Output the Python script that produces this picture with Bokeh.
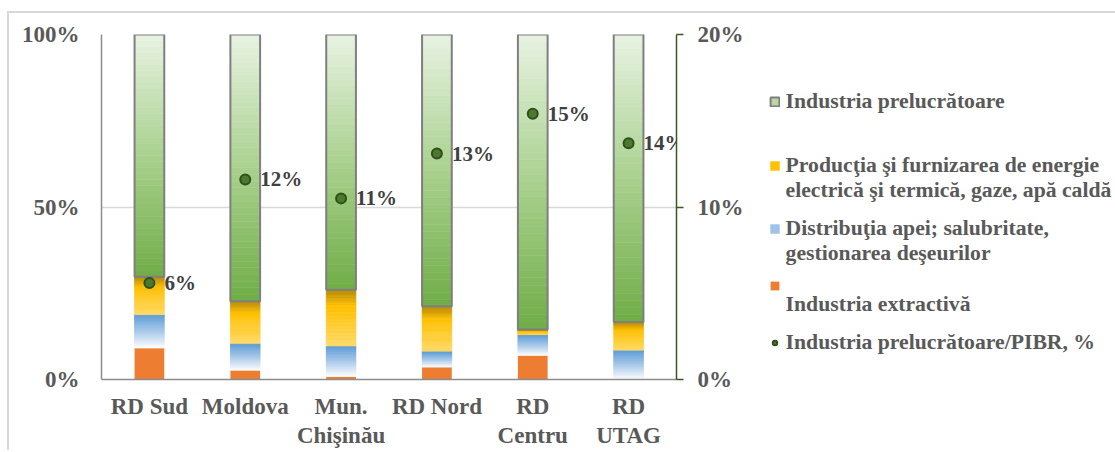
from bokeh.plotting import figure
from bokeh.models import (Range1d, LinearAxis, FixedTicker,
                          PrintfTickFormatter, Legend, LegendItem, ColumnDataSource)
from bokeh.core.properties import value
from bokeh.embed import file_html
from bokeh.resources import INLINE

# ---------------- data ----------------
categories = ["RD Sud", "Moldova", "Mun. Chişinău", "RD Nord", "RD Centru", "RD UTAG"]
tick_line1 = ["RD Sud", "Moldova", "Mun.", "RD Nord", "RD", "RD"]
tick_line2 = ["", "", "Chişinău", "", "Centru", "UTAG"]

extractiva = [9.1, 2.7, 0.9, 3.6, 7.0, 0.0]
distributia = [9.7, 7.7, 8.8, 4.6, 6.0, 8.5]
energie = [11.0, 12.3, 16.3, 13.0, 1.5, 8.2]
prelucratoare = [70.2, 77.3, 74.0, 78.8, 85.5, 83.3]

prelucr_pibr = [5.6, 11.6, 10.5, 13.1, 15.4, 13.7]
pibr_labels = ["6%", "12%", "11%", "13%", "15%", "14%"]

FONT = "Liberation Serif"
GRAY = "#595959"

xpos = list(range(len(categories)))


def hex2rgb(h):
    return tuple(int(h[i:i + 2], 16) for i in (1, 3, 5))


def grad(stops, t):
    for (p0, c0), (p1, c1) in zip(stops, stops[1:]):
        if t <= p1:
            f = (t - p0) / (p1 - p0)
            a, b = hex2rgb(c0), hex2rgb(c1)
            return "#%02x%02x%02x" % tuple(round(a[k] + (b[k] - a[k]) * f) for k in range(3))
    return stops[-1][1]


def slices(vals, base, stops, rep_t, n=40):
    xs, bot, top, col = [], [], [], []
    for c, v, b in zip(xpos, vals, base):
        if v <= 0:
            continue
        for j in range(n):
            xs.append(c)
            bot.append(b + v * j / n)
            top.append(b + v * (j + 1) / n)
            col.append(grad(stops, (j + 0.5) / n))
    k = int(rep_t * n)
    for arr in (xs, bot, top, col):
        arr[0], arr[k] = arr[k], arr[0]
    return ColumnDataSource(dict(x=xs, bottom=bot, top=top, color=col))


base_distr = list(extractiva)
base_energ = [a + b for a, b in zip(extractiva, distributia)]
base_prel = [a + b for a, b in zip(base_energ, energie)]
top_prel = [a + b for a, b in zip(base_prel, prelucratoare)]

green_stops = [(0, "#70ad47"), (0.5, "#a9d18e"), (1, "#e8f2e2")]
yellow_stops = [(0, "#ffd966"), (0.72, "#ffc000"), (1, "#b38600")]
blue_stops = [(0, "#ffffff"), (0.5, "#a9c9ea"), (1, "#5b9bd5")]

p = figure(x_range=Range1d(-0.5, len(categories) - 0.5), y_range=Range1d(0, 100),
           frame_width=575, frame_height=345,
           min_border_left=92, min_border_right=430, min_border_top=21, min_border_bottom=5,
           output_backend="svg", toolbar_location=None, outline_line_color=None,
           x_axis_location=None)
p.styles = {"margin-left": "7px", "margin-top": "11px",
            "border-top": "2px solid #d9d9d9", "border-left": "2px solid #d9d9d9"}
p.extra_y_ranges = {"pibr": Range1d(0, 20)}

BW = 0.31
r_orange = p.vbar(x=xpos, bottom=0, top=extractiva, width=BW,
                  fill_color="#ed7d31", line_color=None)
src_b = slices(distributia, base_distr, blue_stops, 0.55)
r_blue = p.vbar(x="x", bottom="bottom", top="top", width=BW, source=src_b,
                fill_color="color", line_color="color", line_width=0.6)
src_y = slices(energie, base_energ, yellow_stops, 0.7)
r_yellow = p.vbar(x="x", bottom="bottom", top="top", width=BW, source=src_y,
                  fill_color="color", line_color="color", line_width=0.6)
src_g = slices(prelucratoare, base_prel, green_stops, 0.6)
r_green = p.vbar(x="x", bottom="bottom", top="top", width=BW, source=src_g,
                 fill_color="color", line_color="color", line_width=0.6)
r_green_outline = p.vbar(x=xpos, bottom=base_prel, top=top_prel, width=BW,
                         fill_color=None, line_color="#7f7f7f", line_width=2)

r_dot = p.scatter(x=xpos, y=prelucr_pibr, y_range_name="pibr", size=10,
                  marker="circle", fill_color="#4a7a2c", line_color="#2f4f1c", line_width=2)
r_text = p.text(x=xpos, y=prelucr_pibr, text=pibr_labels, y_range_name="pibr",
                x_offset=15, text_baseline="middle", text_align="left",
                text_font=value(FONT), text_font_style="bold", text_font_size="21px",
                text_color="#404040")

# x axes: two stacked axes, one per label line
x1 = LinearAxis(ticker=FixedTicker(ticks=xpos),
                major_label_overrides=dict(zip(xpos, tick_line1)))
x1.axis_line_color = "#8c8c8c"
x1.axis_line_width = 1.5
x1.major_label_standoff = 14
x2 = LinearAxis(ticker=FixedTicker(ticks=xpos),
                major_label_overrides=dict(zip(xpos, tick_line2)))
x2.axis_line_color = None
x2.major_label_standoff = 1
p.add_layout(x1, "below")
p.add_layout(x2, "below")

p.yaxis.ticker = FixedTicker(ticks=[0, 50, 100])
p.yaxis.formatter = PrintfTickFormatter(format="%d%%")
p.yaxis.major_label_standoff = 22
p.yaxis.axis_line_color = "#8c8c8c"
p.yaxis.axis_line_width = 1.5

right = LinearAxis(y_range_name="pibr", ticker=FixedTicker(ticks=[0, 10, 20]),
                   formatter=PrintfTickFormatter(format="%d%%"))
right.axis_line_color = "#385723"
right.axis_line_width = 1.5
right.major_tick_line_color = "#385723"
right.major_tick_line_width = 1.5
right.major_tick_in = 0
right.major_tick_out = 7
right.major_label_standoff = 14
p.add_layout(right, "right")

for ax in (x1, x2, p.yaxis[0]):
    ax.major_tick_line_color = None
    ax.major_tick_out = 0
    ax.major_tick_in = 0
for ax in (x1, x2, p.yaxis[0], right):
    ax.minor_tick_line_color = None
    ax.minor_tick_out = 0
    ax.major_label_text_font = FONT
    ax.major_label_text_font_style = "bold"
    ax.major_label_text_font_size = "23px"
    ax.major_label_text_color = GRAY

p.xgrid.grid_line_color = None
p.ygrid.ticker = FixedTicker(ticks=[0, 50, 100])
p.ygrid.grid_line_color = "#d9d9d9"
p.ygrid.grid_line_width = 1.5

rows = [
    ("Industria prelucrătoare", [r_green, r_green_outline]),
    (" ", [r_text]),
    (" ", [r_text]),
    (" ", [r_text]),
    ("Producţia şi furnizarea de energie", [r_yellow]),
    ("electrică şi termică, gaze, apă caldă", [r_text]),
    (" ", [r_text]),
    ("Distribuţia apei; salubritate,", [r_blue]),
    ("gestionarea deşeurilor", [r_text]),
    (" ", [r_text]),
    (" ", [r_orange]),
    ("Industria extractivă", [r_text]),
    (" ", [r_text]),
    ("Industria prelucrătoare/PIBR, %", [r_dot]),
]
legend = Legend(items=[LegendItem(label=l, renderers=r) for l, r in rows],
                location=(-223, 24), orientation="vertical",
                glyph_width=11, glyph_height=11, label_standoff=6, spacing=0,
                label_height=13, label_text_line_height=0.9,
                padding=0, margin=0, border_line_color=None, background_fill_alpha=0,
                label_text_font=FONT, label_text_font_style="bold",
                label_text_font_size="21.7px", label_text_color=GRAY)
p.add_layout(legend, "right")

open("out.html", "w").write(file_html(p, INLINE))
